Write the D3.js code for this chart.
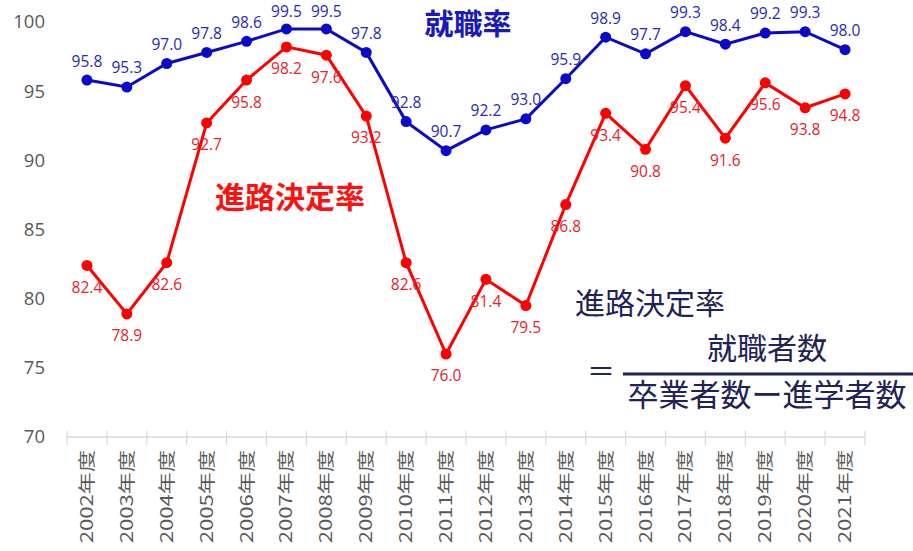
<!DOCTYPE html>
<html><head><meta charset="utf-8">
<script src="https://cdn.jsdelivr.net/npm/d3@7"></script>
<style>body{margin:0;background:#fff}svg{display:block}</style>
</head><body>
<svg id="c" width="913" height="551"></svg>
<script>
const years = ["2002","2003","2004","2005","2006","2007","2008","2009","2010","2011","2012","2013","2014","2015","2016","2017","2018","2019","2020","2021"];
const employment = [95.8,95.3,97.0,97.8,98.6,99.5,99.5,97.8,92.8,90.7,92.2,93.0,95.9,98.9,97.7,99.3,98.4,99.2,99.3,98.0];
const decision = [82.4,78.9,82.6,92.7,95.8,98.2,97.6,93.2,82.6,76.0,81.4,79.5,86.8,93.4,90.8,95.4,91.6,95.6,93.8,94.8];
const yTicks = [70,75,80,85,90,95,100];

const svg = d3.select("#c");
const x = d3.scaleBand().domain(years).range([67,865]);
const y = d3.scaleLinear().domain([70,100]).range([437,22]);
const jp = "'Noto Sans CJK JP','Noto Sans',sans-serif";
const num = "'Open Sans','Noto Sans',sans-serif";

svg.append("line").attr("x1",67).attr("x2",865).attr("y1",y(70)).attr("y2",y(70))
  .attr("stroke","#d9d9d9").attr("stroke-width",1.5);
const bounds = years.map(d=>x(d)).concat([x.range()[1]]);
svg.selectAll(".tk").data(bounds).enter().append("line")
  .attr("x1",d=>d).attr("x2",d=>d).attr("y1",y(70)-6).attr("y2",y(70)+8)
  .attr("stroke","#d9d9d9").attr("stroke-width",1.2);

svg.selectAll(".yl").data(yTicks).enter().append("text")
  .attr("x",45).attr("y",d=>y(d)).attr("dy","0.35em").attr("text-anchor","end")
  .attr("font-family",num).attr("font-size",18.5).attr("fill","#595959").text(d=>d);

svg.selectAll(".xl").data(years).enter().append("text")
  .attr("transform",d=>`translate(${x(d)+x.bandwidth()/2+6},450) rotate(-90) scale(1.3,1)`)
  .attr("text-anchor","end")
  .attr("font-family",jp).attr("font-size",17).attr("fill","#595959").text(d=>d+"年度");

const cx = d=>x(d)+x.bandwidth()/2;
function series(vals,color,labelColor,dy){
  const line = d3.line().x((v,i)=>cx(years[i])).y(v=>y(v));
  svg.append("path").attr("d",line(vals)).attr("fill","none").attr("stroke",color).attr("stroke-width",3);
  svg.selectAll(null).data(vals).enter().append("circle")
    .attr("cx",(v,i)=>cx(years[i])).attr("cy",v=>y(v)).attr("r",5.5).attr("fill",color);
  svg.selectAll(null).data(vals).enter().append("text")
    .attr("x",(v,i)=>cx(years[i])).attr("y",v=>Math.max(12,y(v)+dy)).attr("dy","0.35em").attr("text-anchor","middle")
    .attr("font-family",num).attr("font-size",15.5).attr("fill",labelColor).text(v=>v.toFixed(1));
}
series(decision,"#ff0000","#e8202a",22);
series(employment,"#0a0ac8","#2828b4",-19);

svg.append("text").attr("x",468).attr("y",25).attr("dy","0.35em").attr("text-anchor","middle")
  .attr("font-family",jp).attr("font-weight","bold").attr("font-size",29).attr("fill","#1a1ab8").text("就職率");
svg.append("text").attr("x",290).attr("y",197).attr("dy","0.35em").attr("text-anchor","middle")
  .attr("font-family",jp).attr("font-weight","bold").attr("font-size",30).attr("fill","#ff1010").text("進路決定率");

const nav = "#1f2358";
svg.append("text").attr("x",575).attr("y",303).attr("dy","0.35em")
  .attr("font-family",jp).attr("font-size",30).attr("fill",nav).text("進路決定率");
svg.append("text").attr("x",767).attr("y",348).attr("dy","0.35em").attr("text-anchor","middle")
  .attr("font-family",jp).attr("font-size",30).attr("fill",nav).text("就職者数");
svg.append("text").attr("x",601).attr("y",372).attr("dy","0.35em").attr("text-anchor","middle")
  .attr("font-family",jp).attr("font-size",28).attr("fill",nav).text("＝");
svg.append("line").attr("x1",623).attr("x2",913).attr("y1",374).attr("y2",374).attr("stroke",nav).attr("stroke-width",3);
svg.append("text").attr("x",767).attr("y",395).attr("dy","0.35em").attr("text-anchor","middle")
  .attr("font-family",jp).attr("font-size",31).attr("fill",nav).text("卒業者数ー進学者数");
</script>
</body></html>
